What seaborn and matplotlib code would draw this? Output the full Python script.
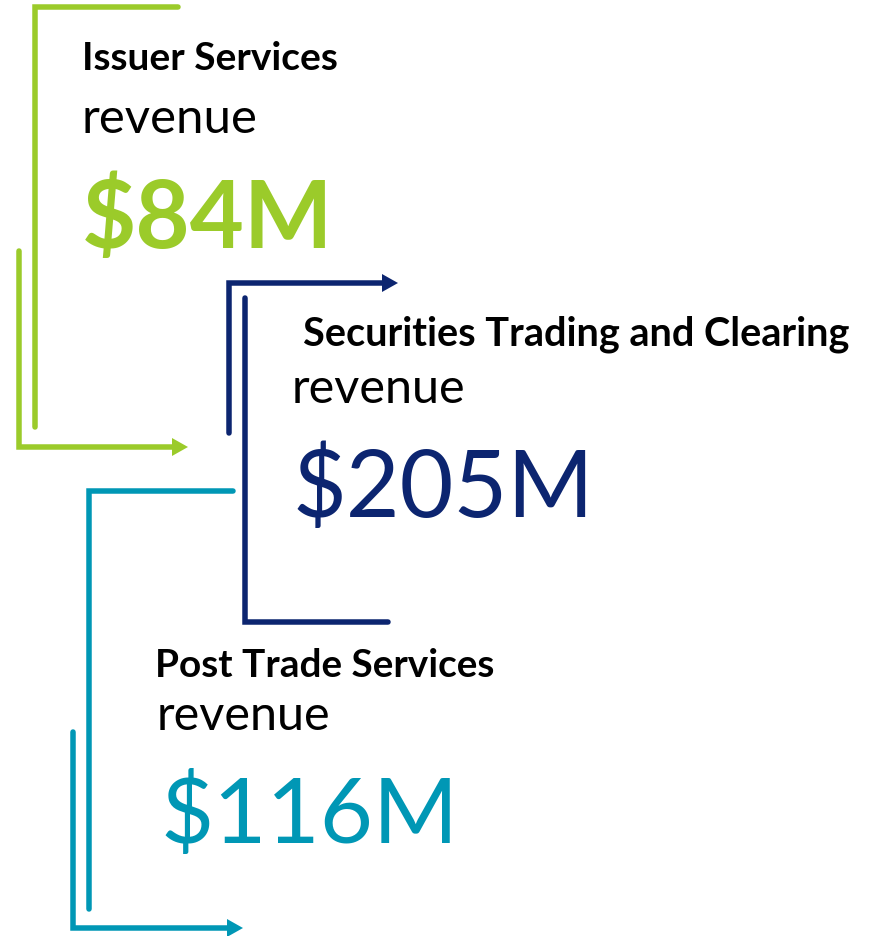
import matplotlib
matplotlib.use("Agg")
import matplotlib.pyplot as plt
import seaborn as sns
import pandas as pd

# ---- data ----
segments = ["Issuer Services", "Securities Trading and Clearing", "Post Trade Services"]
revenue_musd = [84, 205, 116]
value_bold = [True, False, False]
colors = ["#9BCB2A", "#0C2570", "#0097B5"]

sns.set_theme(style="white")
plt.rcParams['font.family'] = ['Lato', 'DejaVu Sans']

W, H, DPI = 870, 937, 100
fig = plt.figure(figsize=(W / DPI, H / DPI), dpi=DPI)
ax = fig.add_axes([0, 0, 1, 1])
ax.set_xlim(0, W)
ax.set_ylim(H, 0)
ax.axis("off")

LW = 5.5 * 72 / DPI

# bracket lines (layout): plain bracket and arrow bracket for each segment
brackets = [
    # (plain polyline, arrow polyline, arrow tip)
    ([(178, 8), (35, 8), (35, 428)], [(19, 252), (19, 448), (174, 448)], (188, 448)),
    ([(245, 299), (245, 623), (388, 623)], [(229, 434), (229, 284), (385, 284)], (398, 284)),
    ([(233, 492), (89, 492), (89, 910)], [(73, 733), (73, 929), (229, 929)], (243, 929)),
]

for (plain, arrow, tip), col in zip(brackets, colors):
    for pts in (plain, arrow):
        df = pd.DataFrame(pts, columns=["x", "y"])
        sns.lineplot(data=df, x="x", y="y", sort=False, estimator=None, ax=ax,
                     color=col, linewidth=LW, solid_capstyle="round",
                     solid_joinstyle="miter")
    # arrowhead
    tx, ty = tip
    bx = tx - 16
    ax.fill([tx, bx, bx], [ty, ty - 9, ty + 9], color=col, lw=0)

ax.set_xlabel("")
ax.set_ylabel("")

# text blocks (layout)
text_layout = [
    # title (x, baseline, width), revenue (x, baseline, width), value (x, baseline, width)
    ((82, 70, 256), (82, 133, 176), (82, 248, 251)),
    ((303, 346, 545), (292, 403, 174), (293, 517, 301)),
    ((155, 677, 339), (157, 730, 174), (160, 843, 298)),
]

fig.canvas.draw()
renderer = fig.canvas.get_renderer()


def fit_text(x, y, s, width, **kw):
    t = ax.text(x, y, s, ha="left", va="baseline", fontsize=30, **kw)
    w = t.get_window_extent(renderer).width
    t.set_fontsize(30 * width / w)
    return t


for seg, val, bold, col, lay in zip(segments, revenue_musd, value_bold, colors, text_layout):
    (tx, ty, tw), (rx, ry, rw), (vx, vy, vw) = lay
    fit_text(tx, ty, seg, tw, color="black", fontweight="bold")
    fit_text(rx, ry, "revenue", rw, color="black")
    fit_text(vx, vy, f"${val}M", vw, color=col,
             fontweight="bold" if bold else "normal")

fig.savefig("out.png", dpi=DPI, facecolor="white")
